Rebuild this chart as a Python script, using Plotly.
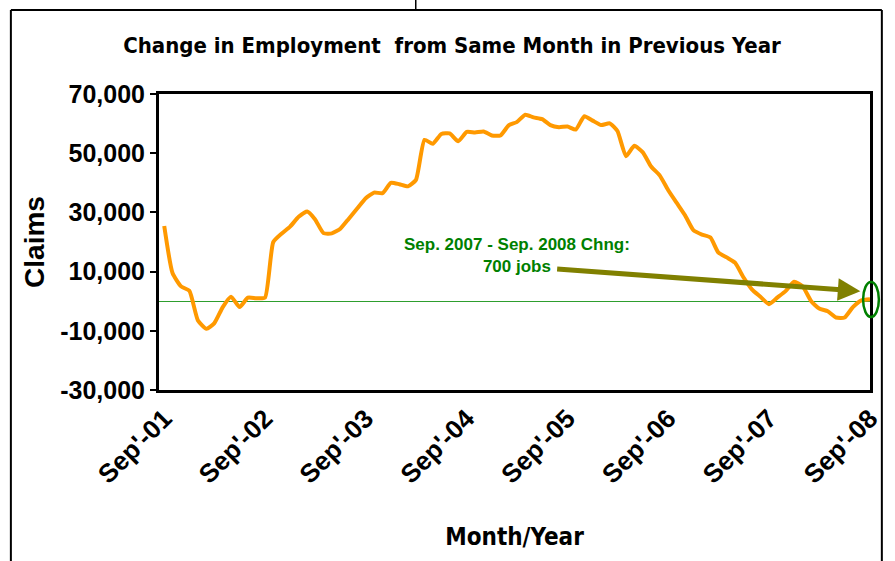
import plotly.graph_objects as go
import pandas as pd

# ---- data ----
start_month = "2001-09-01"
months = pd.date_range(start_month, periods=85, freq="MS")
employment_change = [
    25400, 9500, 5000, 3500, -6500, -9300, -7500, -2000, 1500, -2000, 1200, 1000,
    1200, 20000, 22900, 25200, 28500, 30300, 27700, 23000, 22900, 24500, 27800, 31300,
    34800, 36700, 36500, 40000, 39500, 38800, 41000, 54500, 53200, 56500, 56700, 54000,
    57200, 57000, 57300, 56000, 56000, 59500, 60500, 63000, 62100, 61500, 59500, 58800,
    59000, 58000, 62500, 61000, 59500, 60100, 57500, 49000, 52500, 50300, 45500, 42500,
    37500, 33300, 29000, 24000, 22500, 21500, 16500, 14800, 13000, 8000, 4000, 1500,
    -1000, 1200, 3500, 6600, 5000, 0, -2500, -3400, -5500, -5500, -2000, 300,
    700,
]
x_tick_dates = ["2001-09-01", "2002-09-01", "2003-09-01", "2004-09-01",
                "2005-09-01", "2006-09-01", "2007-09-01", "2008-09-01"]
x_tick_labels = ["Sep'-01", "Sep'-02", "Sep'-03", "Sep'-04",
                 "Sep'-05", "Sep'-06", "Sep'-07", "Sep'-08"]
y_tick_vals = [-30000, -10000, 10000, 30000, 50000, 70000]
y_tick_labels = ["-30,000", "-10,000", "10,000", "30,000", "50,000", "70,000"]

note_text = "Sep. 2007 - Sep. 2008 Chng:<br>700 jobs"
note_pos = ("2005-03-01", 15300)
arrow_tail = ("2005-07-20", 10900)
arrow_head = ("2008-07-28", 3400)

# ---- layout geometry (pixels) ----
W, H = 895, 561
L, R, T, B = 159, 16, 94, 171
PW, PH = W - L - R, H - T - B


def px(xp):
    return (xp - L) / PW


def py(yp):
    return (H - B - yp) / PH


bold = "Liberation Sans, Arial, sans-serif"
cond = "DejaVu Sans Condensed, Liberation Sans Narrow, Arial Narrow, Liberation Sans, Arial"

fig = go.Figure()
fig.add_trace(go.Scatter(
    x=months, y=employment_change, mode="lines",
    line=dict(color="#FF9900", width=4, shape="spline", smoothing=0.5),
    showlegend=False, hoverinfo="x+y",
))

fig.update_layout(
    width=W, height=H,
    margin=dict(l=L, r=R, t=T, b=B, pad=0),
    paper_bgcolor="white", plot_bgcolor="white",
    title=dict(text="<b>Change in Employment  from Same Month in Previous Year</b>",
               font=dict(family=cond, size=22, color="black"),
               xref="container", x=452 / W, xanchor="center",
               yref="container", y=1 - 45 / H, yanchor="middle"),
    xaxis=dict(
        type="date", range=["2001-08-13", "2008-09-01"],
        tickvals=x_tick_dates, ticktext=x_tick_labels, tickangle=-45,
        tickfont=dict(family=bold, size=26, color="black", weight="bold"),
        showgrid=False, zeroline=False, ticks="",
        showline=True, linewidth=3, linecolor="black", mirror=True,
        title=dict(text="<b>Month/Year</b>", standoff=40,
                   font=dict(family=cond, size=24, color="black")),
    ),
    yaxis=dict(
        range=[-30000, 70000], tickvals=y_tick_vals, ticktext=y_tick_labels,
        tickfont=dict(family=bold, size=25, color="black", weight="bold"),
        showgrid=False, zeroline=True, zerolinecolor="#2E9E2E", zerolinewidth=1.4,
        ticks="outside", ticklen=6, tickwidth=1.5, tickcolor="black",
        showline=True, linewidth=3, linecolor="black", mirror=True,
        title=dict(text="<b>Claims</b>", standoff=8,
                   font=dict(family=bold, size=28, color="black")),
    ),
    font=dict(family=bold),
)

# annotation text
fig.add_annotation(
    x=note_pos[0], y=note_pos[1], xref="x", yref="y", text="<b>" + note_text + "</b>",
    showarrow=False, font=dict(family=bold, size=17, color="#008000"), align="center",
)
# arrow
fig.add_annotation(
    x=arrow_head[0], y=arrow_head[1], xref="x", yref="y",
    ax=arrow_tail[0], ay=arrow_tail[1], axref="x", ayref="y",
    text="", showarrow=True, arrowhead=2, arrowsize=0.9, arrowwidth=5,
    arrowcolor="#808000", standoff=0, startstandoff=0,
)

# ellipse around final value
fig.add_shape(type="circle", xref="paper", yref="paper",
              x0=px(872), x1=px(888), y0=py(317), y1=py(282),
              line=dict(color="#008000", width=2.5))

# outer frame
frame = dict(color="black", width=2)
fig.add_shape(type="line", xref="paper", yref="paper",
              x0=px(9), x1=px(891), y0=py(10), y1=py(10), line=frame)
fig.add_shape(type="line", xref="paper", yref="paper",
              x0=px(9), x1=px(9), y0=py(10), y1=py(575), line=frame)
fig.add_shape(type="line", xref="paper", yref="paper",
              x0=px(891), x1=px(891), y0=py(10), y1=py(575), line=frame)
fig.add_shape(type="line", xref="paper", yref="paper",
              x0=px(419), x1=px(419), y0=py(-5), y1=py(10), line=dict(color="black", width=1.5))

fig.write_html("out.html", config={"displayModeBar": False},
               post_script="document.body.style.margin='0';document.body.style.overflow='hidden';")
